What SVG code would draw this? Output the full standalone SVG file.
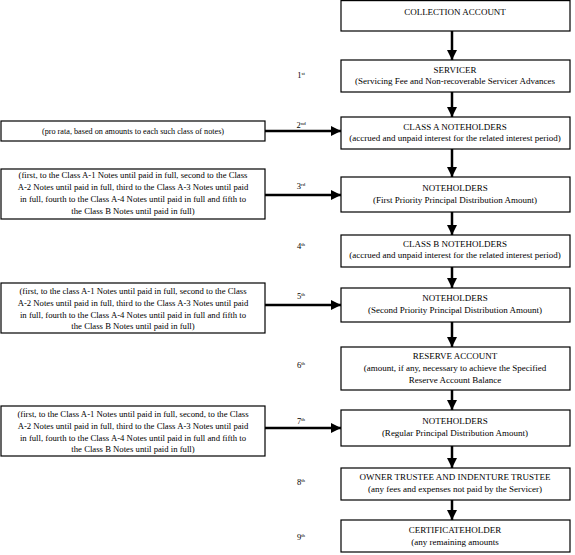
<svg xmlns="http://www.w3.org/2000/svg" width="575" height="555" viewBox="0 0 575 555">
<defs>
<marker id="ah" markerUnits="userSpaceOnUse" markerWidth="10" markerHeight="10" viewBox="0 0 10 10" refX="10" refY="5" orient="auto">
<path d="M0,0 L10,5 L0,10 Z" fill="#000"/>
</marker>
<style>
.box{fill:#fff;stroke:#000;stroke-width:1.2}
.t{font-family:"Liberation Serif","Times New Roman",serif;font-size:9px;fill:#000;text-anchor:middle}
.s{font-family:"Liberation Serif","Times New Roman",serif;font-size:8.2px;fill:#000;text-anchor:middle}
.m{font-family:"Liberation Serif","Times New Roman",serif;font-size:8.7px;fill:#000;text-anchor:middle}
.o{font-family:"Liberation Serif","Times New Roman",serif;font-size:8.5px;fill:#000;text-anchor:middle}
.sup{font-size:5px}
.c{stroke:#000;stroke-width:2.5;fill:none;marker-end:url(#ah)}
</style>
</defs>
<rect width="575" height="555" fill="#fff"/>
<g id="connectors">
<line class="c" x1="452" y1="31" x2="452" y2="60"/>
<line class="c" x1="452" y1="92" x2="452" y2="117"/>
<line class="c" x1="452" y1="149" x2="452" y2="177"/>
<line class="c" x1="452" y1="212" x2="452" y2="235"/>
<line class="c" x1="452" y1="267" x2="452" y2="288"/>
<line class="c" x1="452" y1="322" x2="452" y2="347"/>
<line class="c" x1="452" y1="390" x2="452" y2="410"/>
<line class="c" x1="452" y1="446" x2="452" y2="468"/>
<line class="c" x1="452" y1="500" x2="452" y2="520"/>
<line class="c" x1="265" y1="131" x2="341" y2="131"/>
<line class="c" x1="265" y1="195" x2="341" y2="195"/>
<line class="c" x1="265" y1="305" x2="341" y2="305"/>
<line class="c" x1="265" y1="428" x2="341" y2="428"/>
</g>
<g id="ordinals">
<text class="o" x="301" y="78">1<tspan class="sup" dy="-3">st</tspan></text>
<text class="o" x="301" y="128">2<tspan class="sup" dy="-3">nd</tspan></text>
<text class="o" x="301" y="189">3<tspan class="sup" dy="-3">rd</tspan></text>
<text class="o" x="301" y="249">4<tspan class="sup" dy="-3">th</tspan></text>
<text class="o" x="301" y="299">5<tspan class="sup" dy="-3">th</tspan></text>
<text class="o" x="301" y="368">6<tspan class="sup" dy="-3">th</tspan></text>
<text class="o" x="301" y="424">7<tspan class="sup" dy="-3">th</tspan></text>
<text class="o" x="301" y="485">8<tspan class="sup" dy="-3">th</tspan></text>
<text class="o" x="301" y="540">9<tspan class="sup" dy="-3">th</tspan></text>
</g>
<g id="collection">
<rect class="box" x="341" y="0.6" width="229" height="30.4"/>
<text class="t" x="455" y="15">COLLECTION ACCOUNT</text>
</g>
<g id="servicer">
<rect class="box" x="341" y="60" width="229" height="32"/>
<text class="t" x="455" y="73">SERVICER</text>
<text class="t" x="455" y="84">(Servicing Fee and Non-recoverable Servicer Advances</text>
</g>
<g id="classA">
<rect class="box" x="341" y="117" width="229" height="32"/>
<text class="t" x="455" y="130">CLASS A NOTEHOLDERS</text>
<text class="t" x="455" y="141">(accrued and unpaid interest for the related interest period)</text>
</g>
<g id="note2">
<rect class="box" x="1" y="121" width="264" height="20"/>
<text class="s" x="133" y="134">(pro rata, based on amounts to each such class of notes)</text>
</g>
<g id="noteholders1">
<rect class="box" x="341" y="177" width="229" height="35"/>
<text class="t" x="455" y="191">NOTEHOLDERS</text>
<text class="t" x="455" y="203">(First Priority Principal Distribution Amount)</text>
</g>
<g id="note3">
<rect class="box" x="1" y="169" width="264" height="50"/>
<text class="m" x="133" y="178">(first, to the Class A-1 Notes until paid in full, second to the Class</text>
<text class="m" x="133" y="190">A-2 Notes until paid in full, third to the Class A-3 Notes until paid</text>
<text class="m" x="133" y="202">in full, fourth to the Class A-4 Notes until paid in full and fifth to</text>
<text class="m" x="133" y="214">the Class B Notes until paid in full)</text>
</g>
<g id="classB">
<rect class="box" x="341" y="235" width="229" height="32"/>
<text class="t" x="455" y="247">CLASS B NOTEHOLDERS</text>
<text class="t" x="455" y="258">(accrued and unpaid interest for the related interest period)</text>
</g>
<g id="noteholders2">
<rect class="box" x="341" y="288" width="229" height="34"/>
<text class="t" x="455" y="301">NOTEHOLDERS</text>
<text class="t" x="455" y="313">(Second Priority Principal Distribution Amount)</text>
</g>
<g id="note5">
<rect class="box" x="1" y="283" width="264" height="50"/>
<text class="m" x="133" y="294">(first, to the class A-1 Notes until paid in full, second to the Class</text>
<text class="m" x="133" y="306">A-2 Notes until paid in full, third to the Class A-3 Notes until paid</text>
<text class="m" x="133" y="318">in full, fourth to the Class A-4 Notes until paid in full and fifth to</text>
<text class="m" x="133" y="329">the Class B Notes until paid in full)</text>
</g>
<g id="reserve">
<rect class="box" x="341" y="347" width="229" height="43"/>
<text class="t" x="455" y="359">RESERVE ACCOUNT</text>
<text class="t" x="455" y="371">(amount, if any, necessary to achieve the Specified</text>
<text class="t" x="455" y="383">Reserve Account Balance</text>
</g>
<g id="noteholders3">
<rect class="box" x="341" y="410" width="229" height="36"/>
<text class="t" x="455" y="424">NOTEHOLDERS</text>
<text class="t" x="455" y="436">(Regular Principal Distribution Amount)</text>
</g>
<g id="note7">
<rect class="box" x="1" y="406" width="264" height="50"/>
<text class="m" x="133" y="417">(first, to the Class A-1 Notes until paid in full, second, to the Class</text>
<text class="m" x="133" y="429">A-2 Notes until paid in full, third to the Class A-3 Notes until paid</text>
<text class="m" x="133" y="441">in full, fourth to the Class A-4 Notes until paid in full and fifth to</text>
<text class="m" x="133" y="452">the Class B Notes until paid in full)</text>
</g>
<g id="trustees">
<rect class="box" x="341" y="468" width="229" height="32"/>
<text class="t" x="455" y="480">OWNER TRUSTEE AND INDENTURE TRUSTEE</text>
<text class="t" x="455" y="492">(any fees and expenses not paid by the Servicer)</text>
</g>
<g id="certificateholder">
<rect class="box" x="341" y="520" width="229" height="32"/>
<text class="t" x="455" y="533">CERTIFICATEHOLDER</text>
<text class="t" x="455" y="545">(any remaining amounts</text>
</g>
</svg>
